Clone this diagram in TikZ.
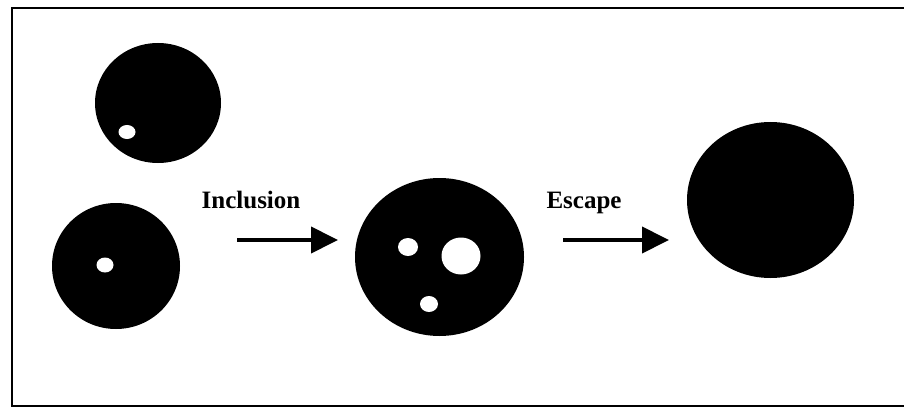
\documentclass[tikz,border=0pt]{standalone}
\usepackage{fontspec}
\setmainfont{Liberation Serif}
\usetikzlibrary{arrows.meta}
\begin{document}
\begin{tikzpicture}[x=1pt,y=-1pt,
  blob/.style={fill=black},
  hole/.style={fill=white},
  flow/.style={line width=4pt,-{Triangle[length=27pt,width=26pt]}},
  lbl/.style={font=\bfseries\fontsize{25}{28}\selectfont, inner sep=0pt}]
\useasboundingbox (0,0) rectangle (904,409);
\clip (0,0) rectangle (904,409);
\draw[line width=2.5pt] (906,8) -- (12,8) -- (12,406) -- (906,406);
% circles
\fill[blob] (158,103) ellipse [x radius=63, y radius=60];
\fill[hole] (127,132) ellipse [x radius=8.5, y radius=7];
\fill[blob] (116,266) ellipse [x radius=64, y radius=63];
\fill[hole] (105,265) ellipse [x radius=8.5, y radius=7.5];
\fill[blob] (439.5,257) ellipse [x radius=84.5, y radius=79];
\fill[hole] (408,247) ellipse [x radius=10, y radius=9];
\fill[hole] (461,256) ellipse [x radius=19.5, y radius=18.5];
\fill[hole] (429,304) ellipse [x radius=9, y radius=8];
\fill[blob] (770.5,200) ellipse [x radius=83.5, y radius=78];
% labels
\node[lbl, anchor=base] (inc) at (251,208) {Inclusion};
\node[lbl, anchor=base] (esc) at (584,208) {Escape};
\coordinate (a1) at (237,240);
\coordinate (a2) at (338,240);
\coordinate (b1) at (563,240);
\coordinate (b2) at (669,240);
\draw[flow] (a1) -- (a2);
\draw[flow] (b1) -- (b2);
\end{tikzpicture}
\end{document}
